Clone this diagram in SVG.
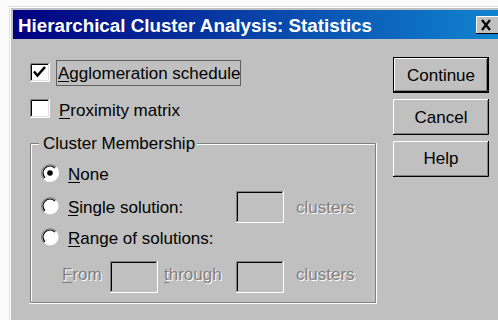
<svg xmlns="http://www.w3.org/2000/svg" width="498" height="320" viewBox="0 0 498 320">
<defs>
<linearGradient id="tb" x1="0" y1="0" x2="1" y2="0">
<stop offset="0" stop-color="#000080"/>
<stop offset="1" stop-color="#1084d0"/>
</linearGradient>
<style>
.t{font-family:"Liberation Sans",Arial,sans-serif;font-size:17px;fill:#000}
.d{font-family:"Liberation Sans",Arial,sans-serif;font-size:17px;fill:#808080}
.dw{font-family:"Liberation Sans",Arial,sans-serif;font-size:17px;fill:#fff}
.bt{font-family:"Liberation Sans",Arial,sans-serif;font-size:17px;fill:#000;text-anchor:middle}
.hi{stroke:#fff;stroke-width:1;fill:none}
.sh{stroke:#808080;stroke-width:1;fill:none}
.bk{stroke:#000;stroke-width:1;fill:none}
.ul{stroke:#000;stroke-width:1}
.uld{stroke:#808080;stroke-width:1}
</style>
</defs>
<rect width="498" height="320" fill="#fbfbfb"/>
<g id="window">
<rect x="9" y="6" width="489" height="314" fill="#dfdfdf"/>
<rect x="10.5" y="7.5" width="490" height="320" fill="#c0c0c0" stroke="#fff"/>
<rect x="13" y="10" width="485" height="29" fill="url(#tb)"/>
<text x="18" y="31.5" font-family="'Liberation Sans',Arial,sans-serif" font-size="18.8" font-weight="bold" fill="#fff" textLength="354" lengthAdjust="spacingAndGlyphs">Hierarchical Cluster Analysis: Statistics</text>
</g>
<g id="close-button">
<rect x="476" y="16" width="24" height="18" fill="#c0c0c0"/>
<path d="M476.5 34V16.5H500" class="hi"/>
<path d="M476 33.5H500" class="bk"/>
<path d="M482 20L490 30M490 20L482 30" stroke="#000" stroke-width="2.2"/>
</g>
<g id="agglomeration-checkbox">
<rect x="30" y="63" width="19" height="19" fill="#fff"/>
<path d="M30.5 82V63.5H49" class="sh"/>
<path d="M31.5 81V64.5H48" class="bk"/>
<path d="M30 81.5H49.5V63" stroke="#fff" fill="none"/>
<path d="M31 80.5H48.5V64" stroke="#dfdfdf" fill="none"/>
<path d="M34 71.5L37.5 75.5L45 67" stroke="#000" stroke-width="2.6" fill="none"/>
<rect x="56.5" y="60.5" width="184" height="25" fill="none" stroke="#000" stroke-dasharray="1 1"/>
<text class="t" x="58" y="79">Agglomeration schedule</text>
<path d="M58 81.5H69" class="ul"/>
</g>
<g id="proximity-checkbox">
<rect x="30" y="99" width="19" height="19" fill="#fff"/>
<path d="M30.5 118V99.5H49" class="sh"/>
<path d="M31.5 117V100.5H48" class="bk"/>
<path d="M30 117.5H49.5V99" stroke="#fff" fill="none"/>
<path d="M31 116.5H48.5V100" stroke="#dfdfdf" fill="none"/>
<text class="t" x="59" y="116">Proximity matrix</text>
<path d="M59 118.5H70" class="ul"/>
</g>
<g id="cluster-membership-group">
<path d="M39 143.5H30.5V302.5H375.5V143.5H197" class="sh"/>
<path d="M39 144.5H31.5V301.5M29.5 303.5H376.5V143M374.5 144.5H197" class="hi"/>
<text class="t" x="43" y="149">Cluster Membership</text>
</g>
<g id="radio-none">
<circle cx="50" cy="173" r="8.5" fill="#fff"/>
<path d="M43.99 179.01A8.5 8.5 0 0 1 56.01 166.99" stroke="#808080" stroke-width="1.2" fill="none"/>
<path d="M45.05 177.95A7 7 0 0 1 54.95 168.05" stroke="#000" stroke-width="1.2" fill="none"/>
<path d="M56.01 166.99A8.5 8.5 0 0 1 43.99 179.01" stroke="#fff" stroke-width="1.2" fill="none"/>
<circle cx="50" cy="173" r="2.8" fill="#000"/>
<text class="t" x="68" y="180">None</text>
<path d="M68 182.5H80" class="ul"/>
</g>
<g id="radio-single">
<circle cx="50" cy="206" r="8.5" fill="#fff"/>
<path d="M43.99 212.01A8.5 8.5 0 0 1 56.01 199.99" stroke="#808080" stroke-width="1.2" fill="none"/>
<path d="M45.05 210.95A7 7 0 0 1 54.95 201.05" stroke="#000" stroke-width="1.2" fill="none"/>
<text class="t" x="68" y="213">Single solution:</text>
<path d="M68 215.5H78" class="ul"/>
<rect x="236" y="191" width="47" height="31" fill="#c0c0c0"/>
<path d="M236.5 222V191.5H283" class="sh"/>
<path d="M237.5 221V192.5H282" class="bk"/>
<path d="M236 222.5H283.5V191" class="hi"/>
<text class="dw" x="297" y="214">clusters</text>
<text class="d" x="296" y="213">clusters</text>
</g>
<g id="radio-range">
<circle cx="50" cy="237" r="8.5" fill="#fff"/>
<path d="M43.99 243.01A8.5 8.5 0 0 1 56.01 230.99" stroke="#808080" stroke-width="1.2" fill="none"/>
<path d="M45.05 241.95A7 7 0 0 1 54.95 232.05" stroke="#000" stroke-width="1.2" fill="none"/>
<text class="t" x="68" y="244">Range of solutions:</text>
<path d="M68 246.5H80" class="ul"/>
</g>
<g id="range-row">
<text class="dw" x="63" y="281">From</text>
<text class="d" x="62" y="280">From</text>
<path d="M62 282.5H72" class="uld"/>
<rect x="110" y="261" width="47" height="31" fill="#c0c0c0"/>
<path d="M110.5 292V261.5H157" class="sh"/>
<path d="M111.5 291V262.5H156" class="bk"/>
<path d="M110 292.5H157.5V261" class="hi"/>
<text class="dw" x="165" y="281">through</text>
<text class="d" x="164" y="280">through</text>
<path d="M164 282.5H169" class="uld"/>
<rect x="236" y="261" width="47" height="31" fill="#c0c0c0"/>
<path d="M236.5 292V261.5H283" class="sh"/>
<path d="M237.5 291V262.5H282" class="bk"/>
<path d="M236 292.5H283.5V261" class="hi"/>
<text class="dw" x="297" y="281">clusters</text>
<text class="d" x="296" y="280">clusters</text>
</g>
<g id="continue-button">
<rect x="393.5" y="57.5" width="95" height="35" fill="#c0c0c0" stroke="#000"/>
<path d="M394.5 91V58.5H487" class="hi"/>
<path d="M394 91.5H487.5V58" class="bk"/>
<path d="M395 90.5H486.5V59" class="sh"/>
<text class="bt" x="441" y="81">Continue</text>
</g>
<g id="cancel-button">
<rect x="393" y="99" width="96" height="36" fill="#c0c0c0"/>
<path d="M393.5 135V99.5H489" class="hi"/>
<path d="M393 134.5H488.5V99" class="bk"/>
<path d="M394 133.5H487.5V100" class="sh"/>
<text class="bt" x="441" y="123">Cancel</text>
</g>
<g id="help-button">
<rect x="393" y="141" width="96" height="36" fill="#c0c0c0"/>
<path d="M393.5 177V141.5H489" class="hi"/>
<path d="M393 176.5H488.5V141" class="bk"/>
<path d="M394 175.5H487.5V142" class="sh"/>
<text class="bt" x="441" y="164">Help</text>
</g>
</svg>
